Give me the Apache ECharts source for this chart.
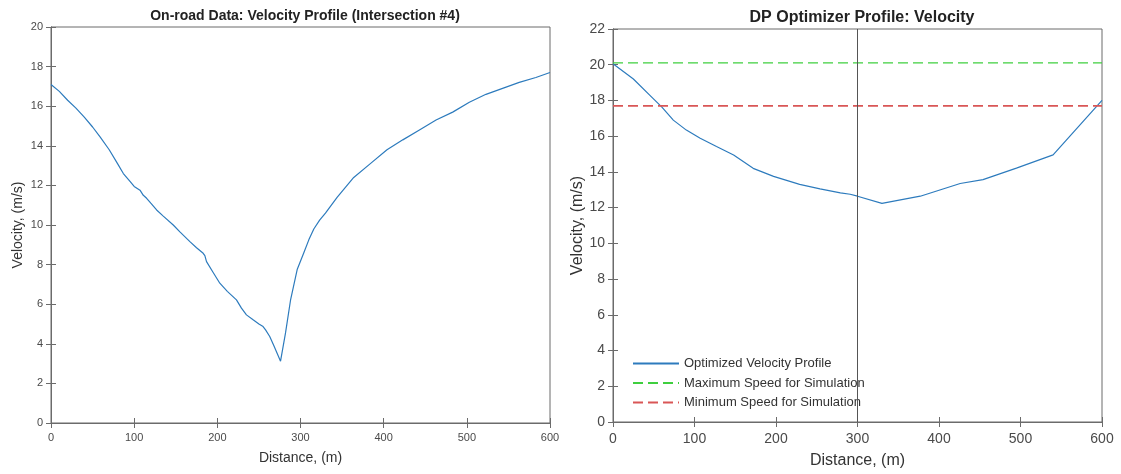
<!DOCTYPE html>
<html>
<head>
<meta charset="utf-8">
<title>Velocity Profiles</title>
<script src="https://cdn.jsdelivr.net/npm/echarts@6/dist/echarts.min.js"></script>
<style>
  html, body { margin: 0; padding: 0; background: #ffffff; }
  #chart { width: 1121px; height: 474px; }
</style>
</head>
<body>
<div id="chart"></div>
<script>
// On-road measurement, intersection #4: distance (m) and velocity (m/s)
const onroadDistance = [0, 10, 20, 30, 40, 50, 59, 70, 80, 87, 95, 100, 107, 111, 115, 120, 127, 135, 147, 155, 167, 175, 183, 185, 187, 195, 203, 212, 223, 229, 235, 243, 250, 255, 258, 263, 268, 276, 282, 288, 296, 304, 310, 316, 323, 330, 344, 364, 384, 404, 423, 443, 463, 483, 503, 523, 543, 563, 583, 600];
const onroadVelocity = [17.1, 16.75, 16.3, 15.9, 15.45, 14.95, 14.45, 13.8, 13.1, 12.6, 12.2, 11.95, 11.76, 11.5, 11.35, 11.1, 10.76, 10.45, 10.0, 9.65, 9.16, 8.85, 8.57, 8.45, 8.15, 7.6, 7.06, 6.65, 6.22, 5.8, 5.46, 5.21, 5.0, 4.87, 4.7, 4.37, 3.9, 3.12, 4.55, 6.2, 7.75, 8.6, 9.25, 9.8, 10.25, 10.6, 11.4, 12.4, 13.1, 13.8, 14.3, 14.8, 15.3, 15.7, 16.2, 16.6, 16.9, 17.2, 17.45, 17.7];

// DP optimizer output: distance (m) and velocity (m/s)
const dpDistance = [0, 25, 45, 60, 74, 90, 107, 127, 148, 172, 197, 229, 254, 279, 291, 300, 330, 377, 426, 454, 495, 540, 600];
const dpVelocity = [20.05, 19.2, 18.3, 17.63, 16.9, 16.34, 15.88, 15.42, 14.95, 14.2, 13.75, 13.3, 13.05, 12.83, 12.75, 12.64, 12.24, 12.64, 13.35, 13.57, 14.21, 14.95, 18.0];

// Speed limits used in the simulation (m/s)
const maxSpeed = 20.1;
const minSpeed = 17.7;
const markerDistance = 300;

const seriesNames = ['Optimized Velocity Profile', 'Maximum Speed for Simulation', 'Minimum Speed for Simulation'];

const FONT = 'Liberation Sans, Arial, Helvetica, sans-serif';
const AXIS_COLOR = '#6b6b6b';
const LABEL_COLOR = '#4a4a4a';
const BLUE = '#2d7bbd';
const GREEN = '#3fcf3f';
const RED = '#d95656';

const pairs = (xs, ys) => xs.map((x, i) => [x, ys[i]]);

function bottomAxis(gridIndex, fontSize, nameSize, nameGap, margin) {
  return {
    type: 'value', gridIndex: gridIndex, position: 'bottom',
    min: 0, max: 600, interval: 100,
    name: 'Distance, (m)', nameLocation: 'middle', nameGap: nameGap,
    nameTextStyle: { fontFamily: FONT, fontSize: nameSize, color: '#333' },
    axisLine: { show: true, lineStyle: { color: AXIS_COLOR, width: 1 } },
    axisTick: { show: true, inside: true, length: 5, lineStyle: { color: AXIS_COLOR } },
    axisLabel: { fontFamily: FONT, fontSize: fontSize, color: LABEL_COLOR, margin: margin },
    splitLine: { show: false }
  };
}
function topAxis(gridIndex) {
  return {
    type: 'value', gridIndex: gridIndex, position: 'top',
    min: 0, max: 600, interval: 100,
    axisLine: { show: true, lineStyle: { color: AXIS_COLOR, width: 1 } },
    axisTick: { show: true, inside: true, length: 5, lineStyle: { color: AXIS_COLOR } },
    axisLabel: { show: false },
    splitLine: { show: false }
  };
}
function leftAxis(gridIndex, max, fontSize, nameSize, nameGap) {
  return {
    type: 'value', gridIndex: gridIndex, position: 'left',
    min: 0, max: max, interval: 2,
    name: 'Velocity, (m/s)', nameLocation: 'middle', nameGap: nameGap,
    nameTextStyle: { fontFamily: FONT, fontSize: nameSize, color: '#333' },
    axisLine: { show: true, lineStyle: { color: AXIS_COLOR, width: 1 } },
    axisTick: { show: true, inside: true, length: 5, lineStyle: { color: AXIS_COLOR } },
    axisLabel: { fontFamily: FONT, fontSize: fontSize, color: LABEL_COLOR, margin: 8 },
    splitLine: { show: false }
  };
}
function rightAxis(gridIndex, max) {
  return {
    type: 'value', gridIndex: gridIndex, position: 'right',
    min: 0, max: max, interval: 2,
    axisLine: { show: true, lineStyle: { color: AXIS_COLOR, width: 1 } },
    axisTick: { show: true, inside: true, length: 5, lineStyle: { color: AXIS_COLOR } },
    axisLabel: { show: false },
    splitLine: { show: false }
  };
}

const chart = echarts.init(document.getElementById('chart'), null, { renderer: 'canvas' });

chart.setOption({
  backgroundColor: '#ffffff',
  animation: false,
  title: [
    {
      text: 'On-road Data: Velocity Profile (Intersection #4)',
      left: 300, top: 4, textAlign: 'center',
      textStyle: { fontFamily: FONT, fontSize: 14, fontWeight: 'bold', color: '#222' }
    },
    {
      text: 'DP Optimizer Profile: Velocity',
      left: 857, top: 5, textAlign: 'center',
      textStyle: { fontFamily: FONT, fontSize: 16, fontWeight: 'bold', color: '#222' }
    }
  ],
  legend: {
    data: seriesNames,
    orient: 'vertical',
    left: 632, top: 357,
    itemWidth: 46, itemHeight: 12, itemGap: 6.5,
    padding: 0,
    itemStyle: { color: 'transparent', borderColor: 'transparent', borderWidth: 0, opacity: 0 },
    textStyle: { fontFamily: FONT, fontSize: 13, color: '#333' },
    backgroundColor: 'transparent',
    selectedMode: false
  },
  grid: [
    { left: 51, right: 571, top: 27, bottom: 51, show: true, borderColor: AXIS_COLOR, borderWidth: 1, backgroundColor: '#fff' },
    { left: 613, right: 19, top: 29, bottom: 49, show: true, borderColor: AXIS_COLOR, borderWidth: 1, backgroundColor: '#fff' }
  ],
  xAxis: [
    bottomAxis(0, 11, 14, 28, 9),
    topAxis(0),
    bottomAxis(1, 14, 16, 31, 10),
    topAxis(1)
  ],
  yAxis: [
    leftAxis(0, 20, 11, 14, 26),
    rightAxis(0, 20),
    leftAxis(1, 22, 14, 16, 27),
    rightAxis(1, 22)
  ],
  series: [
    {
      name: 'On-road Velocity',
      type: 'line', xAxisIndex: 0, yAxisIndex: 0,
      data: pairs(onroadDistance, onroadVelocity),
      showSymbol: false, symbol: 'none',
      lineStyle: { color: BLUE, width: 1.2 },
      itemStyle: { color: BLUE }
    },
    {
      name: seriesNames[0],
      type: 'line', xAxisIndex: 2, yAxisIndex: 2,
      data: pairs(dpDistance, dpVelocity),
      showSymbol: false, symbol: 'none',
      lineStyle: { color: BLUE, width: 1.2 },
      itemStyle: { color: BLUE },
      z: 3,
      markLine: {
        silent: true, symbol: 'none',
        label: { show: false },
        lineStyle: { color: '#555', width: 1, type: 'solid' },
        data: [{ xAxis: markerDistance }]
      }
    },
    {
      name: seriesNames[1],
      type: 'line', xAxisIndex: 2, yAxisIndex: 2,
      data: [[0, maxSpeed], [600, maxSpeed]],
      showSymbol: false, symbol: 'none',
      lineStyle: { color: GREEN, width: 1.2, type: [10, 5] },
      itemStyle: { color: GREEN }
    },
    {
      name: seriesNames[2],
      type: 'line', xAxisIndex: 2, yAxisIndex: 2,
      data: [[0, minSpeed], [600, minSpeed]],
      showSymbol: false, symbol: 'none',
      lineStyle: { color: RED, width: 1.8, type: [10, 5] },
      itemStyle: { color: RED }
    }
  ]
});
</script>
</body>
</html>
